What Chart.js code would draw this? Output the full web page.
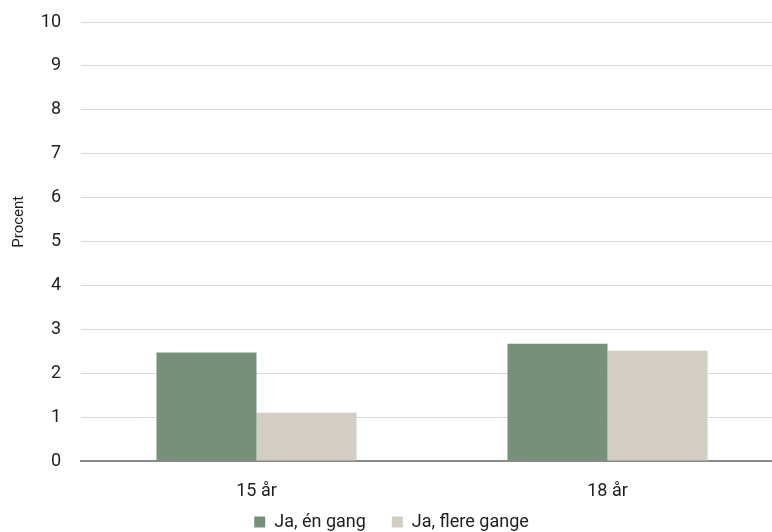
<!DOCTYPE html>
<html><head><meta charset="utf-8">
<script src="https://cdn.jsdelivr.net/npm/chart.js@4"></script>
<style>
html,body{margin:0;padding:0;overflow:hidden;background:#fff;}
#wrap{width:783px;height:532px;position:relative;}
</style></head>
<body><div id="wrap"><canvas id="c"></canvas></div>
<script>
const categories = ["15 år", "18 år"];
const seriesNames = ["Ja, én gang", "Ja, flere gange"];
const onceValues = [2.47, 2.67];
const severalValues = [1.10, 2.51];
const yTicks = [0,1,2,3,4,5,6,7,8,9,10];
const yTitle = "Procent";

const FONT = "Roboto, 'Open Sans', sans-serif";
const TXT = '#1e1e1e';

const yTitlePlugin = {
  id: 'yTitle',
  afterDraw(chart) {
    const ctx = chart.ctx, a = chart.chartArea;
    ctx.save();
    ctx.translate(19, a.top + (a.bottom - a.top) * 0.455);
    ctx.rotate(-Math.PI / 2);
    ctx.font = "15px " + FONT;
    ctx.fillStyle = TXT;
    ctx.textAlign = 'center';
    ctx.textBaseline = 'middle';
    ctx.fillText(yTitle, 0, 0);
    ctx.restore();
  }
};

const chart = new Chart(document.getElementById('c'), {
  type: 'bar',
  data: {
    labels: categories,
    datasets: [
      {label: seriesNames[0], data: onceValues, backgroundColor: '#76907a', categoryPercentage: 0.57, barPercentage: 1},
      {label: seriesNames[1], data: severalValues, backgroundColor: '#d2cec3', categoryPercentage: 0.57, barPercentage: 1}
    ]
  },
  plugins: [yTitlePlugin],
  options: {
    responsive: true, maintainAspectRatio: false, animation: false,
    layout: {padding: {top: 22, left: 0, right: 0, bottom: 0}},
    plugins: {
      tooltip: {enabled: false},
      legend: {position: 'bottom', labels: {boxWidth: 11, boxHeight: 11, padding: 26, color: TXT, font: {family: FONT, size: 18}}}
    },
    scales: {
      x: {
        grid: {display: false, drawTicks: false},
        border: {display: true, color: '#888', width: 2},
        ticks: {padding: 20, color: TXT, font: {family: FONT, size: 18}},
        afterFit: (s) => { s.height = 45; s.paddingLeft = 0; s.paddingRight = 0; }
      },
      y: {
        min: 0, max: 10,
        afterBuildTicks: (s) => { s.ticks = yTicks.map(v => ({value: v})); },
        grid: {color: '#d9d9d9', lineWidth: 1, drawTicks: false},
        border: {display: false},
        ticks: {padding: 20, color: TXT, font: {family: FONT, size: 18}},
        afterFit: (s) => { s.width = 81; s.paddingTop = 0; s.paddingBottom = 0; }
      }
    }
  }
});
const lg = chart.legend;
const origFit = lg.fit.bind(lg);
const origDraw = lg.draw.bind(lg);
lg.fit = function () { origFit(); this.height = 26; };
lg.draw = function () { const t = this.top; this.top = t - 19; origDraw(); this.top = t; };
chart.update();
</script></body></html>
